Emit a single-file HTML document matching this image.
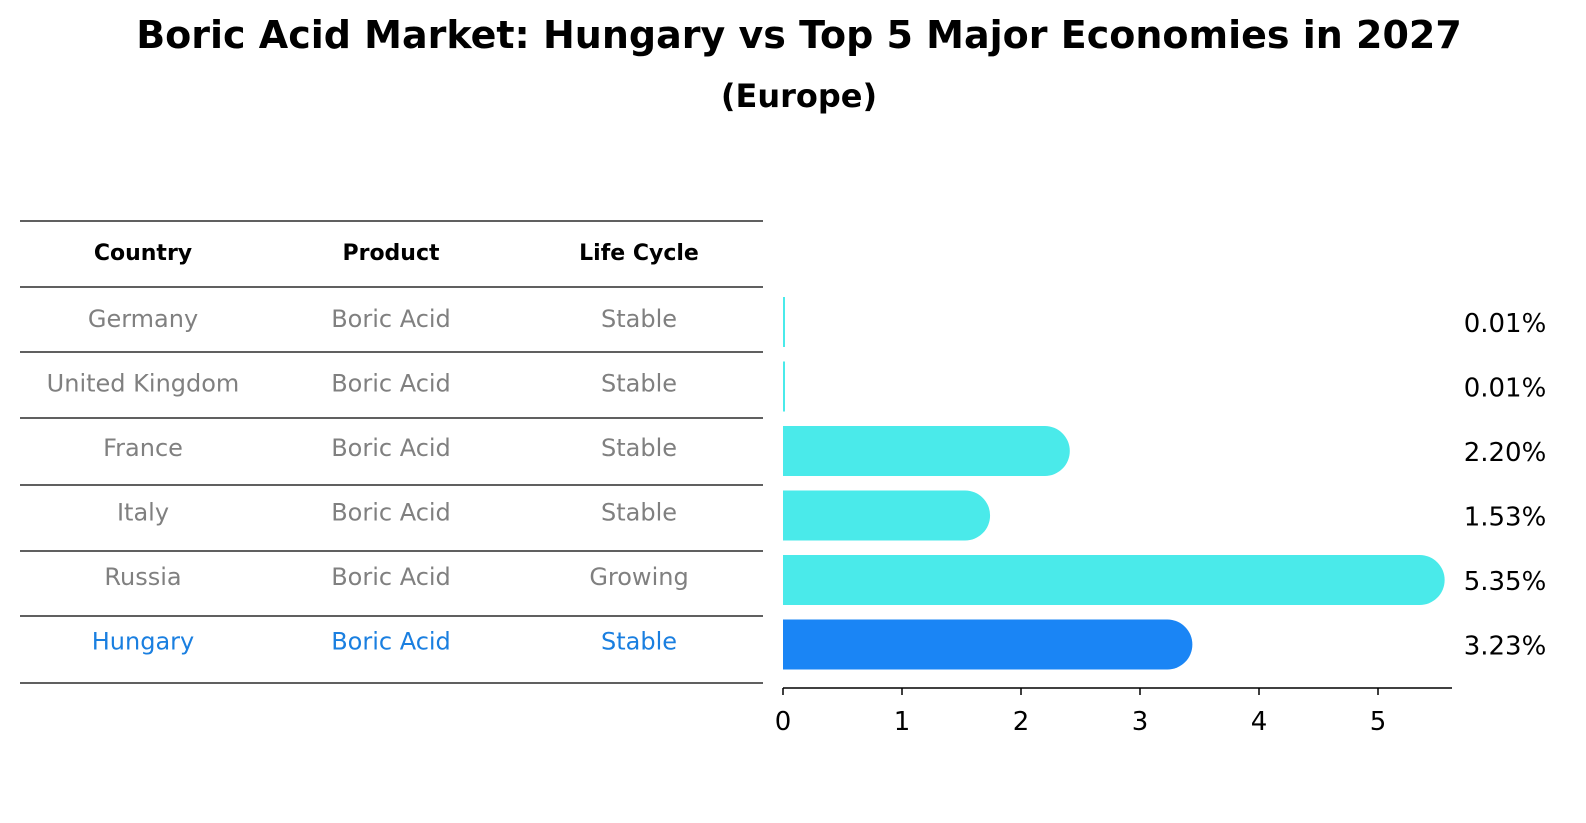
<!DOCTYPE html>
<html><head><meta charset="utf-8"><style>
body{margin:0;background:#fff;font-family:"DejaVu Sans","Liberation Sans",sans-serif;}
#wrap{position:relative;width:1586px;height:823px;overflow:hidden;}
.t{position:absolute;text-align:center;white-space:nowrap;}
</style></head><body>
<div id="wrap">
<div class="t" style="left:0;width:1598px;top:13px;font-size:38px;font-weight:bold;">Boric Acid Market: Hungary vs Top 5 Major Economies in 2027</div>
<div class="t" style="left:0;width:1598px;top:77px;font-size:32px;font-weight:bold;">(Europe)</div>
<svg id="svg" width="1586" height="823" style="position:absolute;left:0;top:0"></svg>
</div>
<script>
const countries=["Germany","United Kingdom","France","Italy","Russia","Hungary"];
const products=["Boric Acid","Boric Acid","Boric Acid","Boric Acid","Boric Acid","Boric Acid"];
const lifecycle=["Stable","Stable","Stable","Stable","Growing","Stable"];
const values=[0.01,0.01,2.20,1.53,5.35,3.23];
const valueLabels=["0.01%","0.01%","2.20%","1.53%","5.35%","3.23%"];
const ticks=[0,1,2,3,4,5];
const NS="http://www.w3.org/2000/svg";
const svg=document.getElementById('svg');
const x0=783,unit=119;
const xs=v=>x0+v*unit;
const rowY=i=>322+i*64.5;
function el(tag,a,txt){const e=document.createElementNS(NS,tag);for(const k in a)e.setAttribute(k,a[k]);if(txt!=null)e.textContent=txt;svg.appendChild(e);return e;}
// table
const lines=[221,287,352,418,485,551,616,683];
lines.forEach((y,i)=>{const l=el('line',{x1:20,x2:763,y1:y,y2:y,stroke:'#000','stroke-width':1.2});

});
const colX=[143,391,639];
["Country","Product","Life Cycle"].forEach((h,j)=>{const t=el('text',{x:colX[j],y:260,'text-anchor':'middle','font-size':22,'font-weight':'bold',fill:'#000'},h);

});
countries.forEach((c,i)=>{
 const col=i===5?'#1a7fe0':'#808080';
 [c,products[i],lifecycle[i]].forEach((s,j)=>{const t=el('text',{x:colX[j],y:rowY(i)+5,'text-anchor':'middle','font-size':24,fill:col},s);
 
 });
});
// bars
values.forEach((v,i)=>{
 const y=rowY(i),h=50,r=25;
 const color=i===5?'#1a85f5':'#4aeaea';
 const xe=xs(v);
 let d;
 if(v*unit<3){d=`M${x0} ${y-h/2}h2v${h}h-2z`;}
 else d=`M${x0} ${y-h/2}H${xe}A${r} ${r} 0 0 1 ${xe} ${y+h/2}H${x0}Z`;
 const p=el('path',{d:d,fill:color});
 
 
 const t=el('text',{x:1505,y:y+10,'text-anchor':'middle','font-size':26,fill:'#000'},valueLabels[i]);
 
 
});
// x axis
const ax=el('line',{x1:x0,x2:1452,y1:688,y2:688,stroke:'#000','stroke-width':1.5});


ticks.forEach(v=>{
 const l=el('line',{x1:xs(v),x2:xs(v),y1:688,y2:695,stroke:'#000','stroke-width':1.5});
 
 
 const t=el('text',{x:xs(v),y:730,'text-anchor':'middle','font-size':26,fill:'#000'},String(v));
 
 
});
</script>
</body></html>
